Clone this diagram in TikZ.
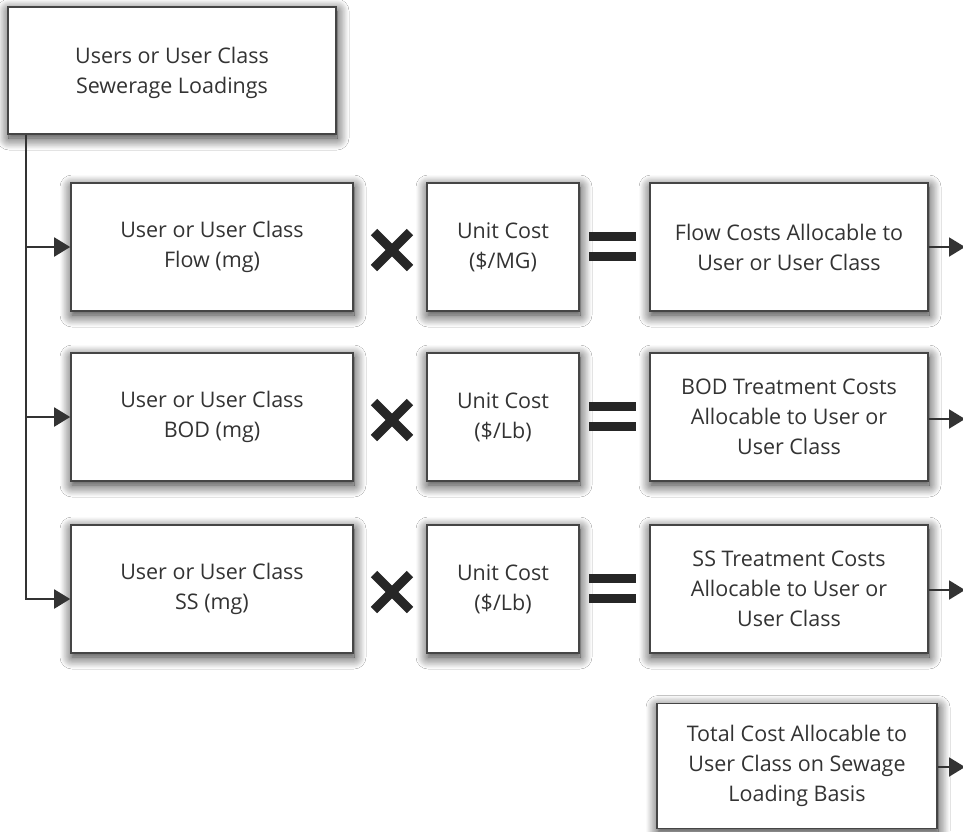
\documentclass[tikz,border=0pt]{standalone}
\usepackage{fontspec}
\setmainfont{Open Sans}
\usetikzlibrary{arrows.meta,shadows.blur,positioning}
\definecolor{boxline}{HTML}{454545}
\definecolor{txt}{HTML}{333333}
\definecolor{conn}{HTML}{333333}
\definecolor{sym}{HTML}{262626}
\tikzset{
  box/.style={draw=boxline, line width=1.6pt, fill=white, align=center,
    text=txt, font=\fontsize{21.5}{30}\selectfont, inner sep=0pt,
    blur shadow={shadow xshift=1pt, shadow yshift=-4pt, shadow blur radius=12pt, shadow opacity=85, shadow blur steps=14}},
  conn/.style={draw=conn, line width=2pt, -{Triangle[length=16pt,width=19pt]}},
  timessym/.style={draw=sym, line width=9pt, line cap=butt},
  eqbar/.style={fill=sym, draw=none}
}
\begin{document}
\begin{tikzpicture}[x=1pt, y=-1pt]
\useasboundingbox[fill=white] (0,0) rectangle (963,831);

\node[box, minimum width=328pt, minimum height=127pt, text depth=-3pt] (top) at (172,70.5) {Users or User Class\\Sewerage Loadings};

\foreach \r/\y/\a/\u/\res in {
  1/247/{Flow (mg)}/{(\$/MG)}/{Flow Costs Allocable to\\User or User Class},
  2/417/{BOD (mg)}/{(\$/Lb)}/{BOD Treatment Costs\\Allocable to User or\\User Class},
  3/589/{SS (mg)}/{(\$/Lb)}/{SS Treatment Costs\\Allocable to User or\\User Class}} {
  \node[box, minimum width=282pt, minimum height=128pt] (in\r) at (212,\y) {User or User Class\\\a};
  \node[box, minimum width=152pt, minimum height=128pt] (u\r) at (503,\y) {Unit Cost\\\u};
  \node[box, minimum width=278pt, minimum height=128pt] (r\r) at (789,\y) {\res};
  % times sign
  \draw[timessym] (374,\y-15) -- (410,\y+21);
  \draw[timessym] (410,\y-15) -- (374,\y+21);
  % equals sign
  \fill[eqbar] (589,\y-15) rectangle (636,\y-6);
  \fill[eqbar] (589,\y+5) rectangle (636,\y+14);
}

\node[box, minimum width=280pt, minimum height=125pt] (total) at (797,766) {Total Cost Allocable to\\User Class on Sewage\\Loading Basis};

% trunk from the top box
\coordinate (trunk) at ([xshift=19pt]top.south west);
\draw[conn] (trunk) |- (in1.west);
\draw[conn] (trunk) |- (in2.west);
\draw[conn] (trunk) |- ([yshift=-10pt]in3.west);

% outgoing arrows
\coordinate (o1) at (965,247);
\coordinate (o2) at (965,419);
\coordinate (o3) at (965,590);
\coordinate (o4) at (965,767);
\draw[conn] (r1.east) -- (o1);
\draw[conn] ([yshift=-2pt]r2.east) -- (o2);
\draw[conn] ([yshift=-1pt]r3.east) -- (o3);
\draw[conn] ([yshift=-1pt]total.east) -- (o4);
\end{tikzpicture}
\end{document}
